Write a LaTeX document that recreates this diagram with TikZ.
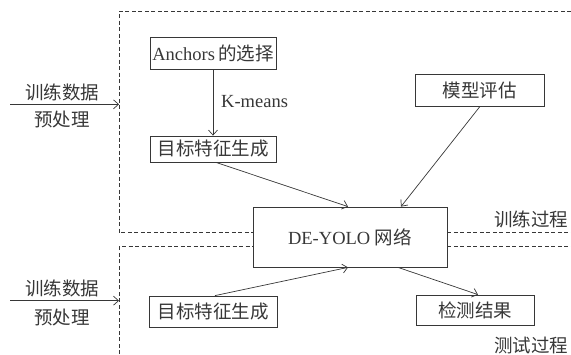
\documentclass[tikz,border=0pt]{standalone}
\usepackage{fontspec}
\setmainfont{Liberation Serif}
\newfontfamily\cjk{Noto Sans CJK SC}
\usetikzlibrary{arrows.meta}
\definecolor{ink}{RGB}{55,55,55}
\tikzset{
  box/.style={draw=ink, line width=0.8pt, inner sep=0pt, minimum width=#1},
  lbl/.style={text=ink, inner sep=0pt, font=\fontsize{18.5}{22}\selectfont},
  conn/.style={draw=ink, line width=0.7pt, -{Straight Barb[length=5pt,width=9pt]}},
  frameline/.style={draw=ink, line width=0.7pt, dash pattern=on 4pt off 2.5pt}
}
\begin{document}
\begin{tikzpicture}[x=1pt,y=-1pt]
\useasboundingbox (0,0) rectangle (571,354);
% boxes
\node[box=126pt, minimum height=32pt, lbl, draw=ink] (anch) at (213,53) {Anchors\,{\cjk 的选择}};
\node[box=126pt, minimum height=26pt, lbl, draw=ink] (tf1) at (213,149) {\cjk 目标特征生成};
\node[box=129pt, minimum height=32pt, lbl, draw=ink] (mx) at (479.5,90) {\cjk 模型评估};
\node[box=194pt, minimum height=60pt, lbl, draw=ink] (de) at (350,237) {DE-YOLO {\cjk 网络}};
\node[box=128pt, minimum height=31pt, lbl, draw=ink] (tf2) at (213,311.5) {\cjk 目标特征生成};
\node[box=118pt, minimum height=30pt, lbl, draw=ink] (jc) at (475,310) {\cjk 检测结果};
% labels
\node[lbl, anchor=west] (km) at (221,102) {K-means};
\node[lbl] (t1a) at (62,92) {\cjk 训练数据};
\node[lbl] (t1b) at (62,119) {\cjk 预处理};
\node[lbl] (t2a) at (62,288) {\cjk 训练数据};
\node[lbl] (t2b) at (62,317) {\cjk 预处理};
\node[lbl] (trn) at (531,219) {\cjk 训练过程};
\node[lbl] (tst) at (531,345) {\cjk 测试过程};
% dashed frames
\coordinate (f1tl) at (119,11);
\coordinate (f1tr) at (571,11);
\coordinate (f1bl) at (119,232.7);
\coordinate (f1br) at (571,232.7);
\coordinate (f2tl) at (119,246.7);
\coordinate (f2tr) at (571,246.7);
\coordinate (f2bl) at (119,354);
\path[frameline] (f1tr) -- (f1tl) -- (f1bl) -- (f1bl -| de.west);
\path[frameline] (f1br -| de.east) -- (f1br);
\path[frameline] (f2bl) -- (f2tl) -- (f2tl -| de.west);
\path[frameline] (f2tr -| de.east) -- (f2tr);
% input arrows
\coordinate (in1) at (10,104.3);
\coordinate (in2) at (10,300.7);
\path[conn] (in1) -- (in1 -| f1tl);
\path[conn] (in2) -- (in2 -| f2tl);
% connectors
\path[conn] (anch.south) -- (tf1.north);
\path[conn] ([xshift=3pt]tf1.south) -- ([xshift=-2pt]de.north);
\path[conn] ([xshift=0.5pt]mx.south) -- ([xshift=51pt]de.north);
\path[conn] ([xshift=2pt]tf2.north) -- ([xshift=-2pt]de.south);
\path[conn] ([xshift=48pt]de.south) -- ([xshift=3pt]jc.north);
\end{tikzpicture}
\end{document}
